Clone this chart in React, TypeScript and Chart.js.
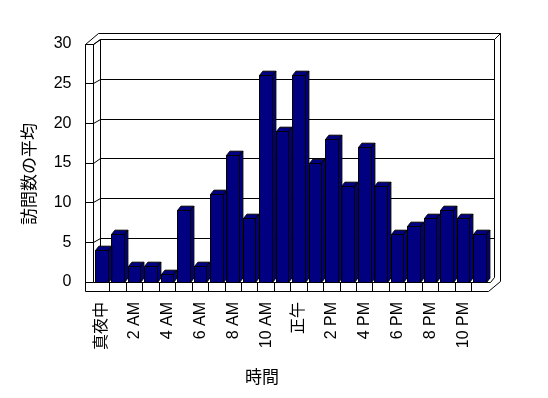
import { useEffect, useRef } from 'react';
import { Chart, registerables } from 'chart.js';

Chart.register(...registerables);

const categories = ['真夜中', '1 AM', '2 AM', '3 AM', '4 AM', '5 AM', '6 AM', '7 AM', '8 AM', '9 AM', '10 AM', '11 AM', '正午', '1 PM', '2 PM', '3 PM', '4 PM', '5 PM', '6 PM', '7 PM', '8 PM', '9 PM', '10 PM', '11 PM'];
const visits = [4, 6, 2, 2, 1, 9, 2, 11, 16, 8, 26, 19, 26, 15, 18, 12, 17, 12, 6, 7, 8, 9, 8, 6];
const yTicks = [0, 5, 10, 15, 20, 25, 30];
const yTitle = '訪問数の平均';
const xTitle = '時間';

const NAVY = '#000080';
const WALL = { dx: 6.5, dy: -4.3, thick: 8.5, floor: 9, back: 6 };
const BAR = { dx: 3.4, dy: -4.3 };

const c = (v: number) => Math.round(v - 0.5) + 0.5;

function poly(ctx: CanvasRenderingContext2D, pts: number[][], fill?: string) {
  ctx.beginPath();
  ctx.moveTo(pts[0][0], pts[0][1]);
  for (let i = 1; i < pts.length; i++) ctx.lineTo(pts[i][0], pts[i][1]);
  if (fill) {
    ctx.closePath();
    ctx.fillStyle = fill;
    ctx.fill();
  }
  ctx.stroke();
}

const frame3d = {
  id: 'frame3d',
  beforeDraw(chart: any) {
    const { ctx, width, height } = chart;
    ctx.save();
    ctx.fillStyle = '#fff';
    ctx.fillRect(0, 0, width, height);
    ctx.restore();
  },
  beforeDatasetsDraw(chart: any) {
    const { ctx, chartArea: a, scales } = chart;
    const ys = scales.y;
    const xs = scales.x;
    const L = c(a.left), R = c(a.right), T = c(a.top), B = c(a.bottom);
    const ox = c(a.left - WALL.thick);
    const fb = c(a.bottom + WALL.floor);
    const bl = c(a.left + WALL.dx), br = c(a.right + WALL.dx);
    const bt = c(a.top + WALL.dy), bb = c(a.bottom + WALL.dy);
    const otop = c(a.top + WALL.dy - WALL.back), oright = c(a.right + WALL.dx + WALL.back);
    ctx.save();
    ctx.strokeStyle = '#000';
    ctx.lineWidth = 1;
    // left wall front face
    poly(ctx, [[ox, fb], [ox, T], [L, T], [L, B]]);
    // left wall top
    poly(ctx, [[ox, T], [ox + 13, otop]]);
    poly(ctx, [[L, T], [bl, bt]]);
    // back wall top outer & inner
    poly(ctx, [[ox + 13, otop], [oright, otop], [oright, c(a.bottom - 1)]]);
    poly(ctx, [[bl, bb], [bl, bt], [br, bt], [br, bb]]);
    poly(ctx, [[br, bt], [oright, otop]]);
    // gridlines and wall ticks
    for (const v of yTicks) {
      const yf = c(ys.getPixelForValue(v));
      const yb = c(ys.getPixelForValue(v) + WALL.dy);
      poly(ctx, [[ox, yf], [L, yf]]);
      if (v > 0) {
        poly(ctx, [[L, yf], [bl, yb]]);
        if (v < 30) poly(ctx, [[bl, yb], [br, yb]]);
      }
    }
    // floor
    poly(ctx, [[L, B], [c(a.right + 2), B], [br, bb]]);
    poly(ctx, [[ox, fb], [R, fb], [oright, c(a.bottom - 1)]]);
    const n = categories.length;
    for (let k = 1; k < n; k++) {
      const x = c(xs.left + (xs.width * k) / n);
      poly(ctx, [[x, B], [x, fb]]);
    }
    ctx.restore();
  },
  afterDatasetsDraw(chart: any) {
    const { ctx } = chart;
    const meta = chart.getDatasetMeta(0);
    ctx.save();
    ctx.strokeStyle = '#000';
    ctx.lineWidth = 1;
    meta.data.forEach((el: any) => {
      const { x, y, base, width } = el.getProps(['x', 'y', 'base', 'width'], true);
      const l = c(x - width / 2), r = c(x + width / 2), t = c(y), b = c(base);
      poly(ctx, [[l, t], [l + BAR.dx, t + BAR.dy], [r + BAR.dx, t + BAR.dy], [r, t]], NAVY);
      poly(ctx, [[r, t], [r + BAR.dx, t + BAR.dy], [r + BAR.dx, b + BAR.dy], [r, b]], NAVY);
      ctx.beginPath();
      ctx.rect(l, t, r - l, b - t);
      ctx.stroke();
    });
    ctx.restore();
  },
  afterDraw(chart: any) {
    const { ctx } = chart;
    ctx.save();
    ctx.fillStyle = '#000';
    ctx.font = "17px 'Noto Sans CJK JP'";
    ctx.textAlign = 'center';
    ctx.textBaseline = 'middle';
    ctx.translate(29, 174);
    ctx.rotate(-Math.PI / 2);
    ctx.fillText(yTitle, 0, 0);
    ctx.restore();
    ctx.save();
    ctx.fillStyle = '#000';
    ctx.font = "17px 'Noto Sans CJK JP'";
    ctx.textAlign = 'center';
    ctx.textBaseline = 'middle';
    ctx.fillText(xTitle, 262, 377);
    ctx.restore();
  },
};

export default function App() {
  const ref = useRef<HTMLCanvasElement>(null);
  useEffect(() => {
    document.body.style.margin = '0';
    const canvas = ref.current!;
    const chart = new Chart(canvas, {
      type: 'bar',
      data: {
        labels: categories,
        datasets: [
          {
            data: visits,
            backgroundColor: NAVY,
            borderColor: '#000',
            borderWidth: 0,
            barPercentage: 0.77,
            categoryPercentage: 1,
          },
        ],
      },
      plugins: [frame3d],
      options: {
        animation: false,
        responsive: false,
        devicePixelRatio: 1,
        layout: { padding: { left: 0, top: 44, right: 60, bottom: 0 } },
        plugins: { legend: { display: false }, tooltip: { enabled: false } },
        scales: {
          x: {
            offset: true,
            grid: { display: false, drawTicks: false },
            border: { display: false },
            afterFit: (s: any) => {
              s.height = 116;
            },
            ticks: {
              autoSkip: false,
              minRotation: 90,
              maxRotation: 90,
              padding: 20,
              color: '#000',
              font: { family: "'Liberation Sans', 'Noto Sans CJK JP'", size: 16 },
              callback: (_v: any, i: number) => (i % 2 === 0 ? categories[i] : ''),
            },
          },
          y: {
            min: 0,
            max: 30,
            grid: { display: false, drawTicks: false },
            border: { display: false },
            afterFit: (s: any) => {
              s.width = 93.5;
            },
            ticks: {
              stepSize: 5,
              padding: 22,
              color: '#000',
              font: { family: "'Liberation Sans'", size: 16 },
            },
          },
        },
      },
    });
    return () => chart.destroy();
  }, []);
  return <canvas ref={ref} width={548} height={398} style={{ display: 'block' }} />;
}
